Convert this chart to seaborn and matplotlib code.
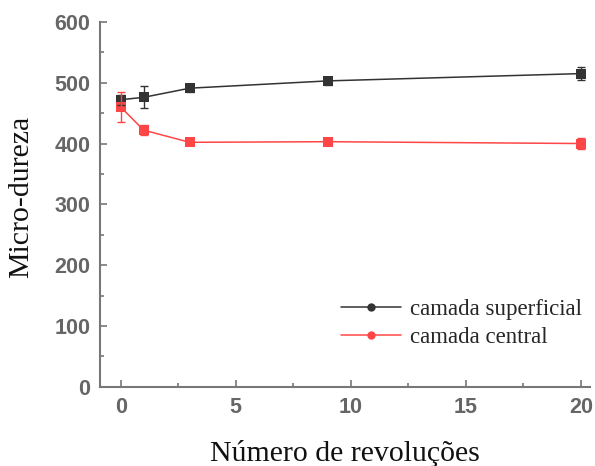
import matplotlib
matplotlib.use("Agg")
import matplotlib.pyplot as plt
from matplotlib.ticker import MultipleLocator
import seaborn as sns
import pandas as pd

revolucoes = [0, 1, 3, 9, 20]
superficial = [472, 476, 491, 503, 515]
superficial_err = [8, 18, 7, 7, 11]
central = [460, 422, 402, 403, 400]
central_err = [25, 8, 5, 5, 9]

df = pd.concat([
    pd.DataFrame({"x": revolucoes, "y": superficial, "serie": "camada superficial"}),
    pd.DataFrame({"x": revolucoes, "y": central, "serie": "camada central"}),
])

sns.set_theme(style="ticks")
plt.rcParams["font.family"] = ["Liberation Sans", "DejaVu Sans"]

fig = plt.figure(figsize=(5.95, 4.66), dpi=100)
ax = fig.add_axes([0.168, 0.170, 0.824, 0.783])

colors = {"camada superficial": "#333333", "camada central": "#ff4545"}
sns.lineplot(data=df, x="x", y="y", hue="serie", palette=colors, marker="s",
             markersize=7, markeredgewidth=0, linewidth=1.1, ax=ax, legend=True)

ax.errorbar(revolucoes, superficial, yerr=superficial_err, fmt="none",
            ecolor=colors["camada superficial"], elinewidth=1, capsize=3)
ax.errorbar(revolucoes, central, yerr=central_err, fmt="none",
            ecolor=colors["camada central"], elinewidth=1, capsize=3)

ax.set_xlim(-0.9, 20.4)
ax.set_ylim(0, 600)
ax.xaxis.set_major_locator(MultipleLocator(5))
ax.xaxis.set_minor_locator(MultipleLocator(2.5))
ax.yaxis.set_major_locator(MultipleLocator(100))
ax.yaxis.set_minor_locator(MultipleLocator(50))
ax.tick_params(which="both", direction="in", color="#777777", labelcolor="#666666",
               labelsize=15.5, width=1.2)
ax.tick_params(which="major", length=5, pad=7)
ax.tick_params(which="minor", length=3)
for lab in ax.get_xticklabels() + ax.get_yticklabels():
    lab.set_fontweight("bold")
sns.despine(ax=ax)
for s in ["left", "bottom"]:
    ax.spines[s].set_color("#777777")
    ax.spines[s].set_linewidth(1.5)

ax.set_xlabel("Número de revoluções", family="Liberation Serif", fontsize=21.5,
              color="#111111", labelpad=16)
ax.set_ylabel("Micro-dureza", family="Liberation Serif", fontsize=21.5,
              color="#111111")
ax.yaxis.set_label_coords(-0.135, 0.52)

leg = ax.legend(loc="lower right", bbox_to_anchor=(1.025, 0.05), frameon=False,
                prop={"family": "Liberation Serif", "size": 16.5},
                handlelength=2.6, handletextpad=0.4, labelspacing=0.3)
for h in leg.legend_handles:
    h.set_marker("o")
    h.set_markersize(6)

fig.savefig("out.png", dpi=100)
